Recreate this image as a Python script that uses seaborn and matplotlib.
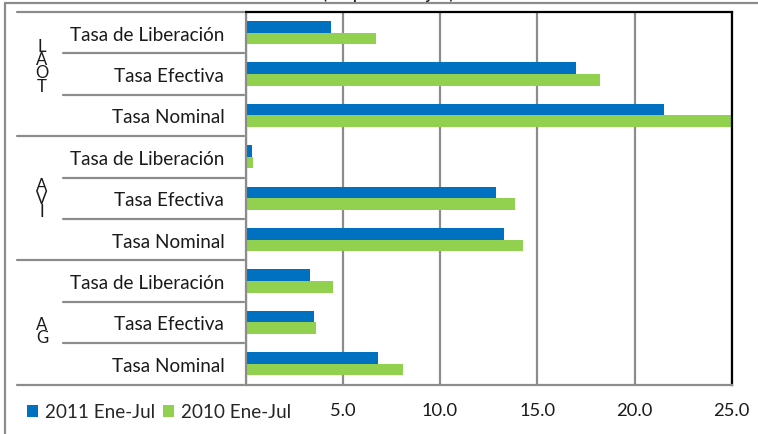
import matplotlib
matplotlib.use("Agg")
import matplotlib.pyplot as plt
import matplotlib.transforms as mtransforms
from matplotlib.lines import Line2D
import seaborn as sns
import pandas as pd

# ---- data ----
groups = ["TOTAL", "IVA", "AG"]
group_texts = ["L\nA\nO\nT", "A\nV\nI", "A\nG"]
rates = ["Tasa de Liberación", "Tasa Efectiva", "Tasa Nominal"]
series = ["2011 Ene-Jul", "2010 Ene-Jul"]
v2011 = [4.4, 17.0, 21.5, 0.34, 12.9, 13.3, 3.3, 3.5, 6.8]
v2010 = [6.7, 18.2, 25.0, 0.39, 13.85, 14.25, 4.5, 3.6, 8.1]
xticks = [0, 5, 10, 15, 20, 25]
xticklabels = ["", "5.0", "10.0", "15.0", "20.0", "25.0"]
title_text = "(en porcentajes)"

cats = [f"{g}|{r}" for g in groups for r in rates]
df = pd.DataFrame({
    "cat": cats * 2,
    "valor": v2011 + v2010,
    "serie": [series[0]] * len(cats) + [series[1]] * len(cats),
})

BLUE = "#0070C0"
GREEN = "#92D050"
GRAY = "#8c8c8c"

sns.set_style("white")
plt.rcParams["font.family"] = ["Lato", "DejaVu Sans"]
FS = 13.6

fig = plt.figure(figsize=(7.58, 4.35), dpi=100)
axl, axb = 245.7 / 758, 1 - 385.5 / 435
axr, axt = 731.7 / 758, 1 - 13 / 435
ax = fig.add_axes([axl, axb, axr - axl, axt - axb])

sns.barplot(data=df, x="valor", y="cat", hue="serie", order=cats,
            hue_order=series, palette=[BLUE, GREEN], saturation=1,
            width=0.56, orient="h", errorbar=None, ax=ax, linewidth=0)

ax.set_xlim(0, 25)
ax.set_ylim(len(cats) - 0.5, -0.5)
ax.set_xlabel("")
ax.set_ylabel("")
ax.set_xticks(xticks)
ax.set_xticklabels(xticklabels, fontsize=FS - 0.4, color="#1a1a1a")
ax.set_yticks(range(len(cats)))
ax.set_yticklabels([c.split("|")[1] for c in cats], fontsize=FS, color="#1a1a1a")
ax.tick_params(axis="y", length=0, pad=15.4)
ax.tick_params(axis="x", length=5, width=1.5, color=GRAY, direction="out", pad=7.5)
ax.xaxis.grid(True, color=GRAY, lw=1.6)
ax.set_axisbelow(True)
for s in ["left", "bottom"]:
    ax.spines[s].set_color(GRAY)
    ax.spines[s].set_linewidth(1.6)
for s in ["top", "right"]:
    ax.spines[s].set_color("black")
    ax.spines[s].set_linewidth(1.6)
ax.spines["bottom"].set_zorder(5)

# legend
handles, labels = ax.get_legend_handles_labels()
ax.get_legend().remove()
fig.legend(handles, labels, loc="center left", bbox_to_anchor=(27 / 758, 1 - 413 / 435),
           ncol=2, frameon=False, fontsize=FS, handlelength=0.6, handleheight=0.6,
           handletextpad=0.35, columnspacing=0.4, borderpad=0, borderaxespad=0)

# category separator lines
tr = mtransforms.blended_transform_factory(fig.transFigure, ax.transData)
for i in range(len(cats) + 1):
    y = i - 0.5
    x0 = 17 / 758 if i % 3 == 0 else 63 / 758
    fig.add_artist(Line2D([x0, axl - 0.002], [y, y], transform=tr, color=GRAY, lw=1.6))

# group labels (stacked letters)
for gi, txt in enumerate(group_texts):
    yc = [0.8, 4.0, 7.2][gi]
    fig.text(42 / 758, yc, txt, transform=tr, ha="center", va="center",
             fontsize=12, linespacing=0.78, color="#1a1a1a")

# outer border & cut title
fig.add_artist(Line2D([5 / 758, 5 / 758], [0, 1 - 3.5 / 435], transform=fig.transFigure, color=GRAY, lw=1.6))
fig.add_artist(Line2D([5 / 758, 1], [1 - 3.5 / 435, 1 - 3.5 / 435], transform=fig.transFigure, color=GRAY, lw=1.6))
fig.text(322 / 758, 1 + 0.5 / 435, title_text, ha="left", va="baseline", fontsize=FS, color="#1a1a1a")

fig.savefig("out.png", dpi=100)
